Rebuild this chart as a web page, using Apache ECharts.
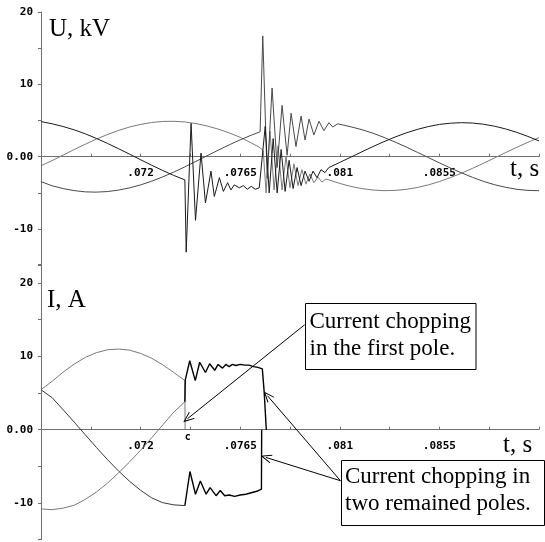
<!DOCTYPE html>
<html>
<head>
<meta charset="utf-8">
<script src="https://cdn.jsdelivr.net/npm/echarts@6/dist/echarts.min.js"></script>
<style>
html,body{margin:0;padding:0;background:#fff;}
#chart{width:545px;height:542px;}
</style>
</head>
<body>
<div id="chart"></div>
<script>
// time axis (s)
var tMin = 0.0675, tMax = 0.09, tStep = 0.00225;
var xTickValues = [0.072, 0.0765, 0.081, 0.0855];
var xTickLabels = ['.072', '.0765', '.081', '.0855'];
var yTickValues = [20, 10, 0, -10];
var yTickLabels = ['20', '10', '0.00', '-10'];

// voltages, kV  [t, u]
var uPhaseA = [
  [0.0675,4.85],[0.0680,4.55],[0.0685,4.17],[0.0690,3.71],[0.0695,3.16],[0.0700,2.53],[0.0705,1.84],
  [0.0710,1.11],[0.0715,0.35],[0.0720,-0.42],[0.0725,-1.18],[0.0730,-1.91],[0.0735,-2.59],[0.07400,-3.21],
  [0.07406,-13.2],[0.07428,4.6],[0.07448,-8.8],[0.07473,0.5],[0.07493,-6.4],[0.07518,-2.0],[0.07533,-5.5],
  [0.07556,-2.9],[0.07574,-4.8],[0.07593,-3.6],[0.07608,-4.6],[0.07623,-3.9],[0.07646,-4.3],[0.07664,-4.0],
  [0.07682,-4.5],[0.07700,-4.1],[0.07718,-4.5],[0.07736,-4.3],
  [0.07763,4.2],[0.07781,-5.0],[0.07799,2.5],[0.07817,-5.0],[0.07835,1.0],[0.07853,-4.8],[0.07871,-0.5],
  [0.07889,-4.4],[0.07907,-1.5],[0.07925,-4.0],[0.07943,-2.0],[0.07961,-3.4],[0.07979,-2.0],[0.07997,-2.9],
  [0.08015,-1.8],[0.08033,-2.2],
  [0.0805,-1.51],[0.0810,-0.79],[0.0815,-0.06],[0.0820,0.68],[0.0825,1.40],[0.0830,2.08],[0.0835,2.72],
  [0.0840,3.29],[0.0845,3.77],[0.0850,4.16],[0.0855,4.46],[0.0860,4.63],[0.0865,4.70],[0.0870,4.65],
  [0.0875,4.48],[0.0880,4.21],[0.0885,3.83],[0.0890,3.36],[0.0895,2.80],[0.0900,2.18]
];
var uPhaseB = [
  [0.0675,-1.25],[0.0680,-0.55],[0.0685,0.22],[0.0690,0.99],[0.0695,1.72],[0.0700,2.43],[0.0705,3.06],
  [0.0710,3.63],[0.0715,4.10],[0.0720,4.46],[0.0725,4.73],[0.0730,4.87],[0.0735,4.89],[0.0740,4.80],
  [0.0745,4.58],[0.0750,4.25],[0.0755,3.82],[0.0760,3.29],[0.0765,2.68],[0.0770,1.90],[0.07740,1.25],
  [0.07754,0.8],
  [0.07767,-5.0],[0.07785,3.5],[0.07803,-4.6],[0.07821,1.5],[0.07839,-4.6],[0.07857,0.0],[0.07875,-4.3],
  [0.07893,-1.0],[0.07911,-4.0],[0.07929,-1.8],[0.07947,-3.8],[0.07965,-2.4],[0.07983,-3.6],[0.08001,-2.8],
  [0.08019,-3.5],[0.08037,-3.1],
  [0.0805,-3.20],[0.0810,-3.70],[0.0815,-4.11],[0.0820,-4.41],[0.0825,-4.61],[0.0830,-4.70],[0.0835,-4.66],
  [0.0840,-4.52],[0.0845,-4.26],[0.0850,-3.90],[0.0855,-3.44],[0.0860,-2.89],[0.0865,-2.28],[0.0870,-1.61],
  [0.0875,-0.90],[0.0880,-0.16],[0.0885,0.58],[0.0890,1.30],[0.0895,1.99],[0.0900,2.64]
];
var uPhaseC = [
  [0.0675,-3.45],[0.0680,-4.02],[0.0685,-4.41],[0.0690,-4.69],[0.0695,-4.86],[0.0700,-4.90],[0.0705,-4.82],
  [0.0710,-4.62],[0.0715,-4.31],[0.0720,-3.90],[0.0725,-3.39],[0.0730,-2.79],[0.0735,-2.13],[0.0740,-1.41],
  [0.0745,-0.65],[0.0750,0.12],[0.0755,0.89],[0.0760,1.63],[0.0765,2.33],[0.0770,2.97],[0.07740,3.44],
  [0.07744,3.6],
  [0.07752,16.7],[0.07772,-3.0],[0.07794,9.5],[0.07817,-1.5],[0.07839,7.1],[0.07862,0.2],[0.07880,6.0],
  [0.07902,1.4],[0.07925,5.6],[0.07943,2.3],[0.07961,5.2],[0.07983,3.0],[0.08006,4.9],[0.08028,3.6],
  [0.08051,4.7],[0.08068,4.1],[0.08091,4.55],
  [0.0815,4.13],[0.0820,3.73],[0.0825,3.24],[0.0830,2.66],[0.0835,2.02],[0.0840,1.34],[0.0845,0.61],
  [0.0850,-0.12],[0.0855,-0.86],[0.0860,-1.57],[0.0865,-2.24],[0.0870,-2.86],[0.0875,-3.42],[0.0880,-3.88],
  [0.0885,-4.24],[0.0890,-4.51],[0.0895,-4.66],[0.0900,-4.70]
];

// currents, A  [t, i]
var iPhase1 = [
  [0.0675,5.45],[0.0680,6.6],[0.0685,7.85],[0.0690,8.95],[0.0695,9.85],[0.0700,10.5],[0.0705,10.9],
  [0.0710,11.0],[0.0715,10.85],[0.0720,10.4],[0.0725,9.75],[0.0730,8.85],[0.0735,7.8],[0.0740,6.7],
  [0.07401,0]
];
var iPhase2Pre = [
  [0.0675,-10.8],[0.0680,-10.9],[0.0685,-10.7],[0.0690,-10.3],[0.0695,-9.5],[0.0700,-8.5],[0.0705,-7.3],
  [0.0710,-5.9],[0.0715,-4.4],[0.0720,-2.8],[0.0725,-1.1],[0.0730,0.65],[0.0735,2.4],[0.0740,3.8]
];
var iPhase2Post = [
  [0.0740,3.8],[0.07402,6.8],[0.07422,9.4],[0.07447,6.7],[0.07467,9.2],[0.07493,7.8],[0.07512,9.0],
  [0.07535,8.1],[0.07550,8.9],[0.07570,8.4],[0.07585,8.9],[0.07600,8.6],[0.07615,8.9],[0.07630,8.75],
  [0.07650,8.9],[0.07670,8.8],[0.07690,8.8],[0.07710,8.6],[0.07730,8.5],[0.07750,8.3],[0.07758,5.3],
  [0.07768,0]
];
var iPhase3Pre = [
  [0.0675,5.45],[0.0680,4.37],[0.0685,2.73],[0.0690,1.03],[0.0695,-0.69],[0.0700,-2.41],[0.0705,-4.07],
  [0.0710,-5.62],[0.0715,-7.03],[0.0720,-8.26],[0.0725,-9.30],[0.0730,-9.95],[0.0735,-10.25],[0.0740,-10.35]
];
var iPhase3Post = [
  [0.0740,-10.35],[0.07423,-5.7],[0.07448,-8.8],[0.07470,-7.0],[0.07496,-8.8],[0.07514,-7.9],[0.07541,-9.0],
  [0.07560,-8.3],[0.07580,-9.0],[0.07600,-8.9],[0.07625,-9.1],[0.07650,-8.9],[0.07675,-8.8],[0.07700,-8.6],
  [0.07725,-8.4],[0.07746,-8.1],[0.07747,0]
];
var chopMark = [0.07413, 0];

var chevron = 'path://M5,0 L10,11 L8.8,11 L5,2.6 L1.2,11 L0,11 Z';

function xLabel(v) {
  for (var i = 0; i < xTickValues.length; i++) {
    if (Math.abs(v - xTickValues[i]) < 1e-7) return xTickLabels[i];
  }
  return '';
}
function yLabel(v) {
  for (var i = 0; i < yTickValues.length; i++) {
    if (Math.abs(v - yTickValues[i]) < 1e-7) return yTickLabels[i];
  }
  return '';
}

var axisGray = '#707070';
var tickFont = {color:'#000', fontFamily:'DejaVu Sans Mono', fontWeight:'bold', fontSize:11};

// x axis is lifted from the grid bottom up to the zero line
function makeX(g, lift) {
  return {
    type:'value', gridIndex:g, min:tMin, max:tMax, interval:tStep,
    position:'bottom', offset:-lift,
    axisLine:{onZero:false, lineStyle:{color:axisGray, width:1}},
    axisTick:{inside:true, length:3, lineStyle:{color:axisGray}},
    axisLabel:Object.assign({formatter:xLabel, margin:11}, tickFont),
    splitLine:{show:false}
  };
}
function makeY(g, max) {
  return {
    type:'value', gridIndex:g, min:-15, max:max, interval:5,
    axisLine:{show:true, onZero:false, lineStyle:{color:axisGray, width:1}},
    axisTick:{show:true, length:3, lineStyle:{color:axisGray}},
    axisLabel:Object.assign({formatter:yLabel, margin:8}, tickFont),
    splitLine:{show:false}
  };
}
function line(data, g, color, width) {
  return {
    type:'line', xAxisIndex:g, yAxisIndex:g, data:data, showSymbol:false, symbol:'none',
    lineStyle:{color:color, width:width || 1}, itemStyle:{color:color}, silent:true
  };
}

var sI1 = line(iPhase1, 1, '#7a7a7a');
sI1.markPoint = {
  symbol:'circle', symbolSize:1, itemStyle:{color:'rgba(0,0,0,0)'}, silent:true,
  label:{show:true, formatter:'c', position:'bottom', distance:2, color:'#000',
         fontFamily:'DejaVu Sans Mono', fontWeight:'bold', fontSize:10},
  data:[{coord:chopMark}]
};
sI1.markLine = {
  silent:true, symbol:['none', chevron], symbolSize:[9, 11],
  lineStyle:{color:'#000', width:1, type:'solid'}, label:{show:false},
  data:[
    [{coord:[0.07941, 14.3]}, {coord:[0.07412, 1.5]}],
    [{coord:[0.08103, -6.96]}, {coord:[0.07773, 4.64]}],
    [{coord:[0.08103, -6.96]}, {coord:[0.07766, -3.78]}]
  ]
};

var serif = 'Liberation Serif';
var option = {
  animation:false,
  backgroundColor:'#fff',
  grid:[
    {left:41, top:12, width:498, height:253.2},
    {left:41, top:264.7, width:498, height:275}
  ],
  xAxis:[makeX(0, 108.5), makeX(1, 110)],
  yAxis:[makeY(0, 20), makeY(1, 22.5)],
  series:[
    line(uPhaseB, 0, '#7a7a7a'),
    line(uPhaseC, 0, '#4a4a4a'),
    line(uPhaseA, 0, '#1a1a1a'),
    sI1,
    line(iPhase2Pre, 1, '#7a7a7a'),
    line(iPhase3Pre, 1, '#3a3a3a'),
    line(iPhase2Post, 1, '#000', 1.4),
    line(iPhase3Post, 1, '#000', 1.4)
  ],
  graphic:[
    {type:'text', left:49, top:17, style:{text:'U, kV', fontFamily:serif, fontSize:25, fill:'#000'}},
    {type:'text', left:510, top:157, style:{text:'t, s', fontFamily:serif, fontSize:25, fill:'#000'}},
    {type:'text', left:47, top:288, style:{text:'I, A', fontFamily:serif, fontSize:25, fill:'#000'}},
    {type:'text', left:503, top:433, style:{text:'t, s', fontFamily:serif, fontSize:25, fill:'#000'}},
    {type:'rect', shape:{x:305.5, y:303.5, width:170.5, height:66}, z:100,
     style:{fill:'#fff', stroke:'#000', lineWidth:1}},
    {type:'text', x:309.5, y:308.7, z:101,
     style:{text:'Current chopping\nin the first pole.', fontFamily:serif, fontSize:23, lineHeight:27, fill:'#000'}},
    {type:'rect', shape:{x:341.5, y:460.5, width:203, height:65}, z:100,
     style:{fill:'#fff', stroke:'#000', lineWidth:1}},
    {type:'text', x:345, y:463.7, z:101,
     style:{text:'Current chopping in\ntwo remained poles.', fontFamily:serif, fontSize:23, lineHeight:27, fill:'#000'}}
  ]
};

var myChart = echarts.init(document.getElementById('chart'));
myChart.setOption(option);
</script>
</body>
</html>
